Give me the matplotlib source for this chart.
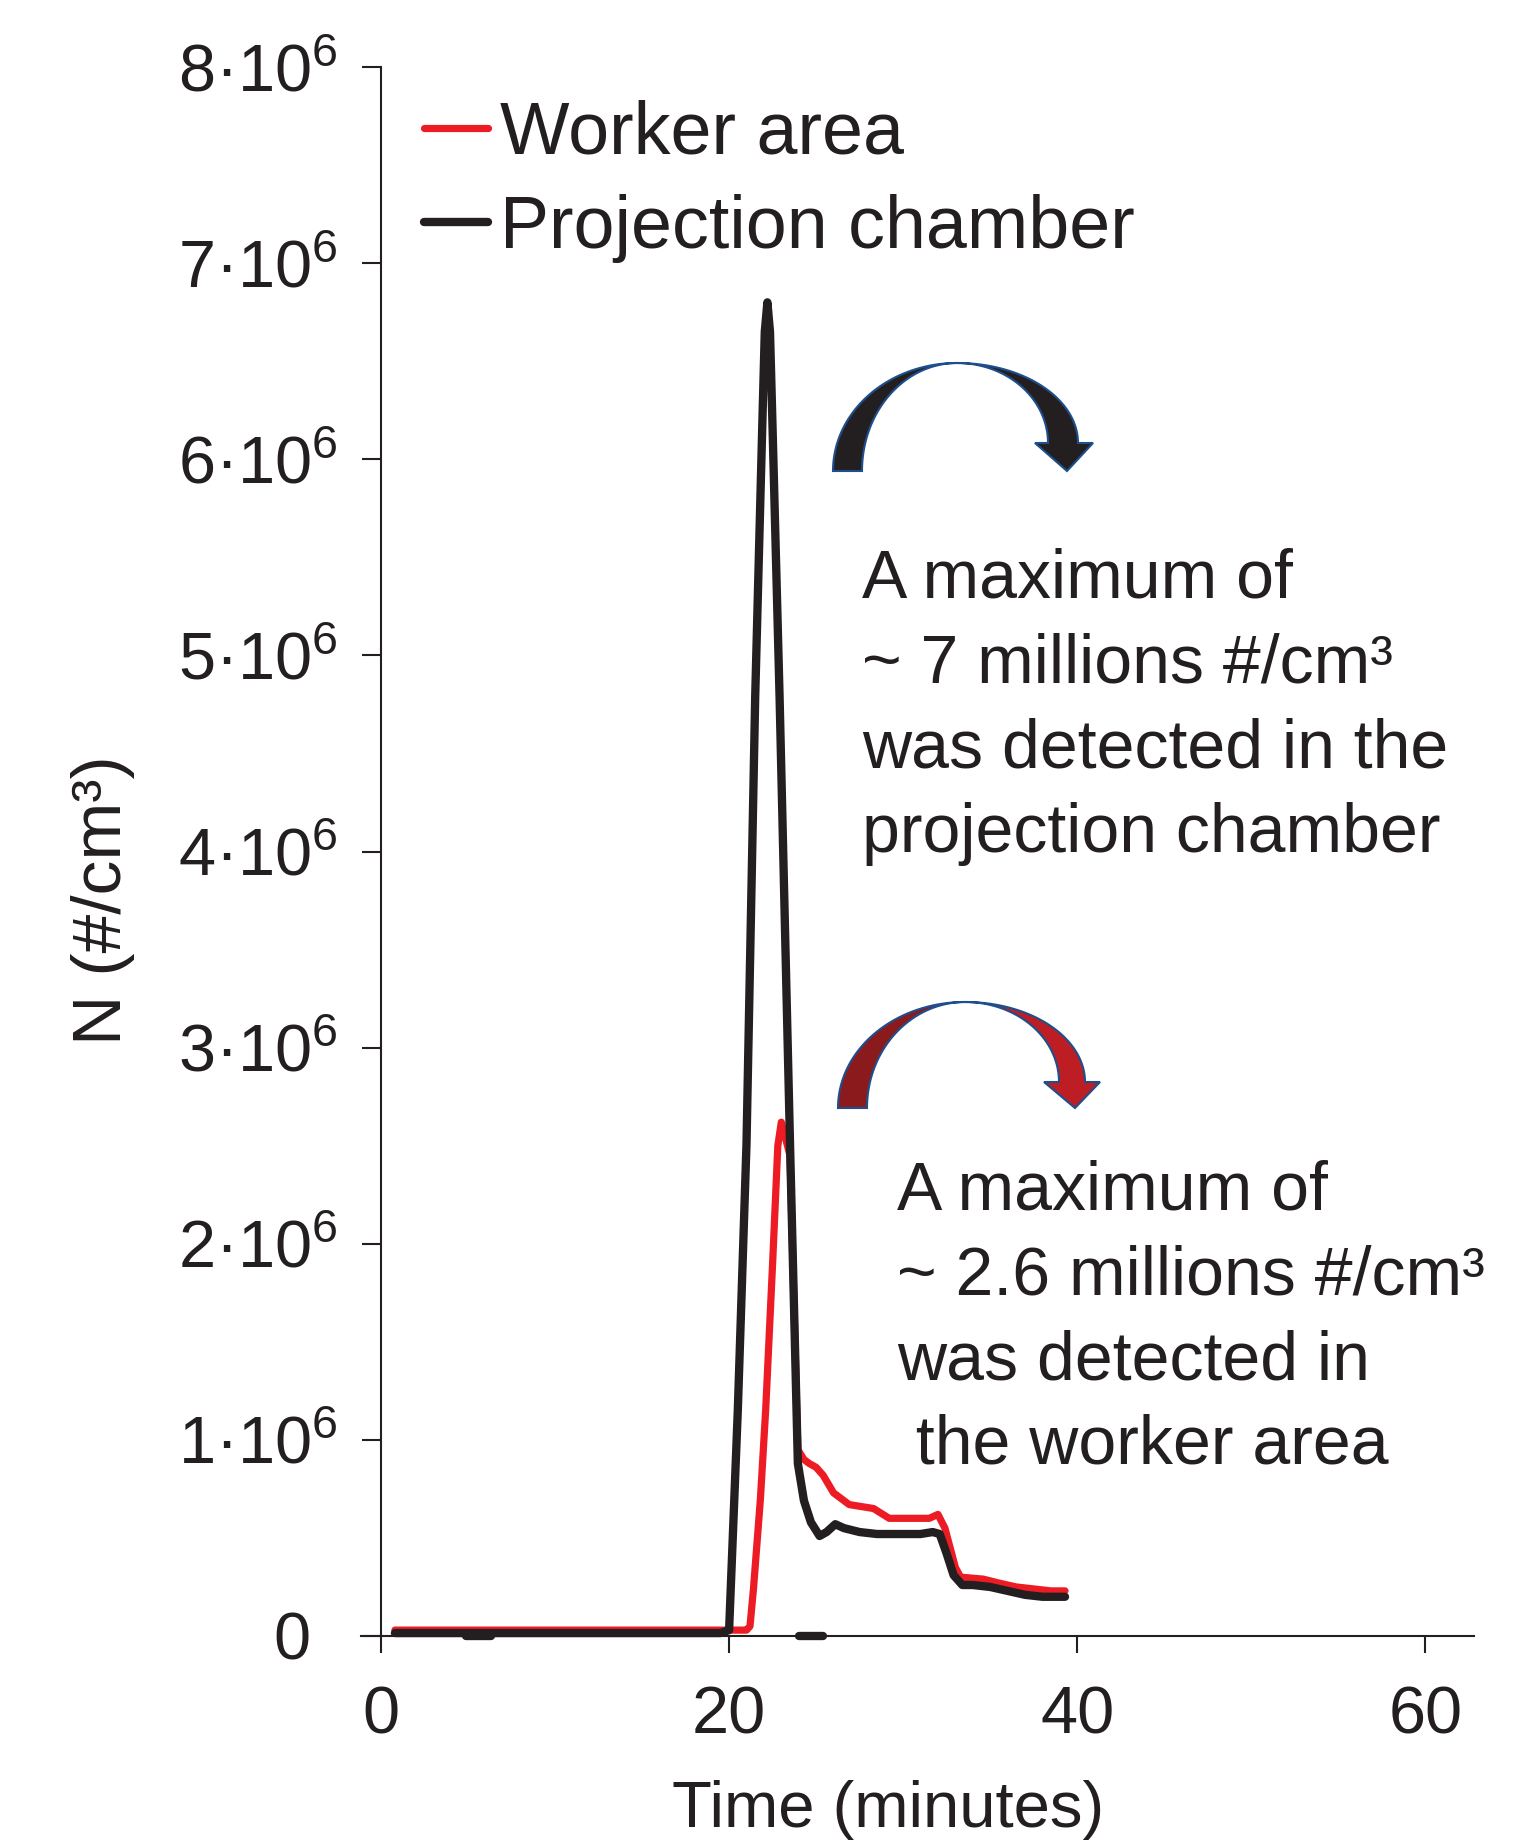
import matplotlib
matplotlib.use('Agg')
import matplotlib.pyplot as plt
from matplotlib.patches import Polygon
from matplotlib.transforms import ScaledTranslation
import numpy as np

plt.rcParams['font.family'] = ['Liberation Sans', 'DejaVu Sans']
plt.rcParams['mathtext.fontset'] = 'custom'
plt.rcParams['mathtext.rm'] = 'Liberation Sans'
plt.rcParams['mathtext.it'] = 'Liberation Sans:italic'
plt.rcParams['mathtext.bf'] = 'Liberation Sans:bold'

ink = '#231f20'
red = '#ed1c24'

# ---- data, N in millions #/cm3 ----
proj_t = [0.8, 5, 10, 15, 19.5, 20.0, 20.5, 21.0, 21.5, 21.9, 22.05, 22.2, 22.35,
          22.5, 22.9, 23.5, 23.95, 24.3, 24.7, 25.2, 25.6, 26.1, 26.6, 27.5, 28.5,
          29.8, 31.0, 31.7, 32.1, 32.5, 32.9, 33.4, 34.0, 35.0, 36.0, 37.0, 38.0, 39.3]
proj_n = [0.015, 0.015, 0.015, 0.015, 0.015, 0.03, 1.15, 2.51, 4.79, 6.15, 6.65, 6.8, 6.65,
          6.15, 4.79, 2.51, 0.88, 0.69, 0.58, 0.51, 0.53, 0.57, 0.55, 0.53, 0.52,
          0.52, 0.52, 0.53, 0.52, 0.42, 0.31, 0.26, 0.26, 0.25, 0.23, 0.21, 0.20, 0.20]

worker_t = [0.8, 5, 10, 15, 20, 20.8, 21.0, 21.2, 21.4, 21.8, 22.1, 22.5, 22.8, 23.0,
            23.5, 23.95, 24.3, 24.6, 25.0, 25.4, 26.0, 26.9, 28.3, 29.2, 30.5,
            31.5, 32.0, 32.4, 33.0, 33.3, 34.6, 35.5, 36.5, 37.5, 38.5, 39.3]
worker_n = [0.03, 0.03, 0.03, 0.03, 0.03, 0.03, 0.03, 0.05, 0.24, 0.70, 1.15, 1.90, 2.50, 2.62,
            2.45, 0.95, 0.90, 0.88, 0.86, 0.82, 0.73, 0.67, 0.65, 0.60, 0.60,
            0.60, 0.62, 0.55, 0.35, 0.30, 0.29, 0.27, 0.25, 0.24, 0.23, 0.23]

# short black marks lying on the time axis
mark_start = [4.9, 24.0]
mark_end = [6.3, 25.4]

x_ticks = [0, 20, 40, 60]
y_ticks = [0, 1, 2, 3, 4, 5, 6, 7, 8]
y_tick_labels = ['0'] + [r'$\mathregular{%d·10^{6}}$' % v for v in y_ticks[1:]]

ann1_lines = ['A maximum of', '~ 7 millions #/cm³', 'was detected in the', 'projection chamber']
ann2_lines = ['A maximum of', '~ 2.6 millions #/cm³', 'was detected in', ' the worker area']

W, H = 1539, 1845
fig = plt.figure(figsize=(W / 100, H / 100), dpi=100)
ax = fig.add_axes([361 / W, (H - 1636) / H, 1113 / W, 1569 / H])

ax.plot(worker_t, np.array(worker_n) * 1e6, color=red, lw=5.2, label='Worker area',
        solid_joinstyle='round', solid_capstyle='round', clip_on=False, zorder=3)
ax.plot(proj_t, np.array(proj_n) * 1e6, color=ink, lw=6, label='Projection chamber',
        solid_joinstyle='round', solid_capstyle='round', clip_on=False, zorder=4)
for a, b in zip(mark_start, mark_end):
    ax.plot([a, b], [0, 0], color=ink, lw=6, solid_capstyle='round', clip_on=False, zorder=5)

ax.set_xlim(-1.15, 62.8)
ax.set_ylim(0, 8e6)
ax.spines['top'].set_visible(False)
ax.spines['right'].set_visible(False)
ax.spines['left'].set_position(('data', 0))
for s in ('left', 'bottom'):
    ax.spines[s].set_linewidth(1.5)
    ax.spines[s].set_color(ink)

ax.set_xticks(x_ticks)
ax.set_xticklabels([str(v) for v in x_ticks])
ax.set_yticks([v * 1e6 for v in y_ticks])
ax.set_yticklabels(y_tick_labels)
ax.tick_params(axis='y', direction='out', length=14, width=1.5, pad=17,
               labelsize=48, colors=ink)
ax.tick_params(axis='x', direction='out', length=12, width=1.5, pad=24,
               labelsize=48, colors=ink)
# the plain "0" sits left, as if it had the superscript too
zero_lab = ax.get_yticklabels()[0]
zero_lab.set_transform(zero_lab.get_transform() + ScaledTranslation(-0.27, 0, fig.dpi_scale_trans))

ax.set_xlabel('Time (minutes)', fontsize=47, color=ink)
ax.xaxis.set_label_coords(0.4735, -0.092)
ax.set_ylabel('N (#/cm³)', fontsize=50, color=ink)
ax.yaxis.set_label_coords(-0.203, 0.469)

leg = ax.legend(loc='upper left', bbox_to_anchor=(424 / W, 1 - 100 / H),
                bbox_transform=fig.transFigure, frameon=False, fontsize=53,
                handlelength=0.87, handletextpad=0.16, labelspacing=0.34,
                borderpad=0, borderaxespad=0)
for t in leg.get_texts():
    t.set_color(ink)

# overlay in pixel coordinates for the notes and the curved arrows
ov = fig.add_axes([0, 0, 1, 1], zorder=5)
ov.set_xlim(0, W)
ov.set_ylim(H, 0)
ov.axis('off')
ov.patch.set_alpha(0)


def curved_arrow(xl_out, xl_in, xt, yt, yb, xr_in, xr_out, yh, xb_l, xb_r, xtip, ytip,
                 c_left, c_right):
    th = np.linspace(0, np.pi / 2, 50)
    outer = np.c_[xt - (xt - xl_out) * np.cos(th), yb - (yb - yt) * np.sin(th)]
    inner = np.c_[xt - (xt - xl_in) * np.cos(th), yb - (yb - yt) * np.sin(th)][::-1]
    left = np.vstack([outer, inner])
    outer_r = np.c_[xt + (xr_out - xt) * np.cos(th[::-1]), yh - (yh - yt) * np.sin(th[::-1])]
    head = np.array([[xb_r, yh], [xtip, ytip], [xb_l, yh]])
    inner_r = np.c_[xt + (xr_in - xt) * np.cos(th), yh - (yh - yt) * np.sin(th)]
    right = np.vstack([outer_r, head, inner_r])
    for pts, c in ((left, c_left), (right, c_right)):
        ov.add_patch(Polygon(pts, closed=True, fc=c, ec='#1f4e8c', lw=1.5, joinstyle='miter'))


curved_arrow(833, 862, 957, 363, 471, 1048, 1078, 443, 1035, 1093, 1067, 471, ink, ink)
curved_arrow(838, 867, 965, 1002, 1108, 1059, 1085, 1082, 1044, 1100, 1075, 1108,
             '#8b1a1d', '#bc1e24')

for i, line in enumerate(ann1_lines):
    ov.text(862, 598 + i * 84.5, line, fontsize=49, color=ink, ha='left', va='baseline')
for i, line in enumerate(ann2_lines):
    ov.text(897, 1210 + i * 84.5, line, fontsize=49, color=ink, ha='left', va='baseline')

fig.savefig('out.png', dpi=100)
